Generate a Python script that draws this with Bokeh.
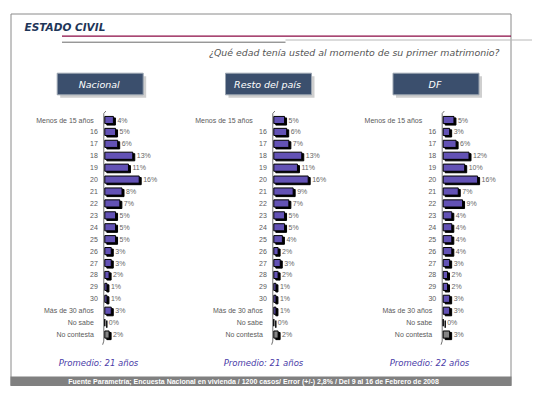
from bokeh.plotting import figure
from bokeh.models import Range1d, ColumnDataSource, Label
from bokeh.core.properties import value
from bokeh.embed import file_html
from bokeh.resources import INLINE

# ---------------- data ----------------
categories = ["Menos de 15 años", "16", "17", "18", "19", "20", "21", "22", "23", "24",
              "25", "26", "27", "28", "29", "30", "Más de 30 años", "No sabe", "No contesta"]
nacional = [4, 5, 6, 13, 11, 16, 8, 7, 5, 5, 5, 3, 3, 2, 1, 1, 3, 0, 2]
resto = [5, 6, 7, 13, 11, 16, 9, 7, 5, 5, 4, 2, 3, 2, 1, 1, 1, 0, 2]
df = [5, 3, 6, 12, 10, 16, 7, 9, 4, 4, 4, 4, 3, 2, 2, 3, 3, 0, 3]
panel_names = ["Nacional", "Resto del país", "DF"]
promedios = ["Promedio: 21 años", "Promedio: 21 años", "Promedio: 22 años"]
title = "ESTADO CIVIL"
question = "¿Qué edad tenía usted al momento de su primer matrimonio?"
footer = ("Fuente Parametría; Encuesta Nacional en vivienda / 1200 casos/ Error (+/-) 2,8% / "
          "Del 9 al 16 de Febrero de 2008")

# ---------------- layout constants (pixels, page coords) ----------------
W, H = 532, 396
X0, X1, Y0, Y1 = 0, W, 0, H
SCALE = 2.15          # px per percent
PITCH = 11.92         # px per row
ROW0 = 119.5          # centre of first row
ZEROS = [104.3, 273.3, 442.7]
PURPLE = "#6352b5"
DV = "DejaVu Sans"
LFONT = value("Liberation Sans")

p = figure(width=W, height=H, x_range=Range1d(X0, X1), y_range=Range1d(Y1, Y0),
           x_axis_location=None, y_axis_location=None, toolbar_location=None,
           output_backend="svg", min_border=0, outline_line_color=None,
           background_fill_color="white", border_fill_color="white")
p.grid.visible = False


def xrange_for(zero):
    return Range1d(start=(X0 - zero) / SCALE, end=(X1 - zero) / SCALE)


def yrange_for(row0):
    return Range1d(start=(Y1 - row0) / PITCH, end=(Y0 - row0) / PITCH)


p.extra_y_ranges = {"rows": yrange_for(ROW0), "rows_s": yrange_for(ROW0 + 1.5)}
xr = {}
for i, z in enumerate(ZEROS):
    xr[f"p{i}"] = xrange_for(z)
    xr[f"p{i}s"] = xrange_for(z + 2)
p.extra_x_ranges = xr

# ---------------- frame & header ----------------
p.quad(left=[10.5], right=[510.5], top=[13.5], bottom=[385], fill_color=None,
       line_color="#8a8a8a", line_width=1)
p.segment(x0=[61.5], y0=[35.7], x1=[510.5], y1=[35.7], line_color="#8b0a45", line_width=1.3)
p.segment(x0=[61.5], y0=[41.7], x1=[285], y1=[41.7], line_color="#6a6a6a", line_width=1)
p.segment(x0=[285], y0=[39.5], x1=[532], y1=[39.5], line_color="#b8b8b8", line_width=1)
p.add_layout(Label(x=24, y=26.5, text=title, text_font=DV, text_font_size="10.5px",
                   text_font_style="bold italic", text_color="#1e3658",
                   text_baseline="middle", text_align="left"))
p.add_layout(Label(x=499, y=52, text=question, text_font=DV, text_font_size="9.4px",
                   text_font_style="italic", text_color="#555555",
                   text_baseline="middle", text_align="right"))

# footer bar
p.quad(left=[10], right=[511], top=[376], bottom=[385.5], fill_color="#808080",
       line_color=None)
p.add_layout(Label(x=253, y=381, text=footer, text_font="Liberation Sans",
                   text_font_size="7px", text_font_style="bold", text_color="white",
                   text_baseline="middle", text_align="center"))

# ---------------- panels ----------------
box_centers = [99.7, 268, 435.5]
promedio_x = [98, 263, 429]
series = [nacional, resto, df]
for i in range(3):
    cx = box_centers[i]
    # header box with shadow
    p.quad(left=[cx - 43 + 3], right=[cx + 43 + 3], top=[72.7 + 3], bottom=[94.3 + 3],
           fill_color="#cfcfcf", line_color=None)
    p.quad(left=[cx - 43], right=[cx + 43], top=[72.7], bottom=[94.3],
           fill_color="#3b4f6d", line_color="#9aa4b0", line_width=1)
    p.add_layout(Label(x=cx - 1, y=83.5, text=panel_names[i], text_font=DV,
                       text_font_size="9.5px", text_font_style="italic",
                       text_color="white", text_baseline="middle", text_align="center"))

    vals = series[i]
    colors = [PURPLE] * (len(vals) - 1) + ["#858585"]
    offs = []
    for j, c in enumerate(categories):
        if c.isdigit():
            offs.append(-7)
        elif j == 0 and i > 0:
            offs.append(-21)
        else:
            offs.append(-11)
    src = ColumnDataSource(dict(cat=categories, row=list(range(len(categories))),
                                val=vals, lab=[f"{v}%" for v in vals], color=colors,
                                zero=[0] * len(vals), off=offs))
    xn, xs = f"p{i}", f"p{i}s"
    # axis line
    p.segment(x0=[-0.47], y0=[-0.55], x1=[-0.47], y1=[len(categories) - 0.45],
              x_range_name=xn, y_range_name="rows", line_color="#707070", line_width=1)
    p.segment(x0=[-0.47], y0=[-0.55], x1=[0.5], y1=[-0.75],
              x_range_name=xn, y_range_name="rows", line_color="#707070", line_width=1)
    p.segment(x0=[-0.47], y0=[len(categories) - 0.45], x1=[-1.0], y1=[len(categories) - 0.15],
              x_range_name=xn, y_range_name="rows", line_color="#707070", line_width=1)
    # shadow then bar
    p.hbar(y="row", left="zero", right="val", height=0.6, source=src,
           x_range_name=xs, y_range_name="rows_s", fill_color="black", line_color="black",
           line_width=1)
    p.hbar(y="row", left="zero", right="val", height=0.6, source=src,
           x_range_name=xn, y_range_name="rows", fill_color="color", line_color="black",
           line_width=1)
    # value labels
    p.text(x="val", y="row", text="lab", source=src, x_range_name=xn, y_range_name="rows",
           x_offset=4, text_font=LFONT, text_font_size="7px", text_color="#666666",
           text_baseline="middle", text_align="left")
    # category labels
    p.text(x="zero", y="row", text="cat", source=src, x_range_name=xn, y_range_name="rows",
           x_offset="off", text_font=LFONT, text_font_size="7px", text_color="#5a5a5a",
           text_baseline="middle", text_align="right")
    p.add_layout(Label(x=promedio_x[i], y=362, text=promedios[i], text_font=DV,
                       text_font_size="8.5px", text_font_style="italic",
                       text_color="#4a3ca8", text_baseline="middle", text_align="center"))

open("out.html", "w").write(file_html(p, INLINE))
